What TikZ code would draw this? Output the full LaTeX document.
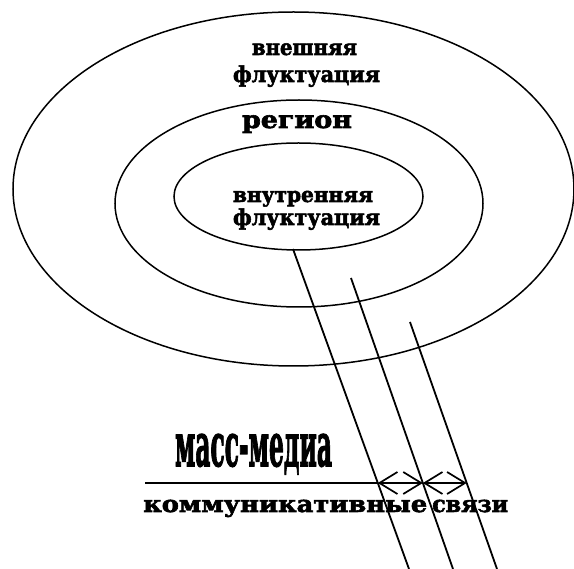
\documentclass[tikz,border=0pt]{standalone}
\usepackage{fontspec}
\usepackage{graphicx}
\usetikzlibrary{arrows.meta,calc,shapes.geometric}
\newfontfamily\slab[FakeBold=2.5]{DejaVu Serif Bold}
\newcommand\wfit[3]{\resizebox{#1pt}{\height}{\fontsize{#2pt}{#2pt}\selectfont\slab #3}}
\begin{document}
\begin{tikzpicture}[x=1pt,y=-1pt,
  ring/.style={ellipse, draw, line width=1.5pt, inner sep=0pt},
  ray/.style={line width=1.8pt},
  lbl/.style={inner sep=0pt, anchor=base},
  dbl/.style={line width=1.7pt, {Straight Barb[length=18pt,width=22pt]}-{Straight Barb[length=18pt,width=22pt]}}]
\useasboundingbox (0,0) rectangle (574,569);
% ellipses
\node[ring, minimum width=561pt, minimum height=354pt] (outer) at (293.5,189) {};
\node[ring, minimum width=368pt, minimum height=207pt] (middle) at (299,203.5) {};
\node[ring, minimum width=249pt, minimum height=107pt] (inner) at (298.5,196.5) {};
% labels
\node[lbl] (t1) at (304.5,55) {\wfit{105}{22}{внешняя}};
\node[lbl] (t2) at (306.5,82) {\wfit{147}{22}{флуктуация}};
\node[lbl] (t3) at (297,128) {\wfit{110}{24}{регион}};
\node[lbl] (t4) at (303,202) {\wfit{140}{21}{внутренняя}};
\node[lbl] (t5) at (306.5,225) {\wfit{147}{22}{флуктуация}};
\node[lbl] (t6) at (253.5,466) {\wfit{157}{60}{масс-медиа}};
\node[lbl, anchor=base west] (t7) at (143,512) {\wfit{284}{23}{коммуникативные}};
\node[lbl, anchor=base west] (t8) at (432,512) {\wfit{76}{23}{связи}};
% rays
\coordinate (a1) at (293,249); \coordinate (b1) at (409,569);
\coordinate (a2) at (351,278); \coordinate (b2) at (453,569);
\coordinate (a3) at (410,322); \coordinate (b3) at (497,569);
\draw[ray] (a1) -- (b1);
\draw[ray] (a2) -- (b2);
\draw[ray] (a3) -- (b3);
\coordinate (p1) at ($(a1)!0.73125!(b1)$);
\coordinate (p2) at ($(a2)!0.7045!(b2)$);
\coordinate (p3) at ($(a3)!0.6518!(b3)$);
\coordinate (r0) at (145,483);
\draw[ray] (r0) -- (p1);
\draw[dbl] (p1) -- (p2);
\draw[dbl] (p2) -- (p3);
\end{tikzpicture}
\end{document}
